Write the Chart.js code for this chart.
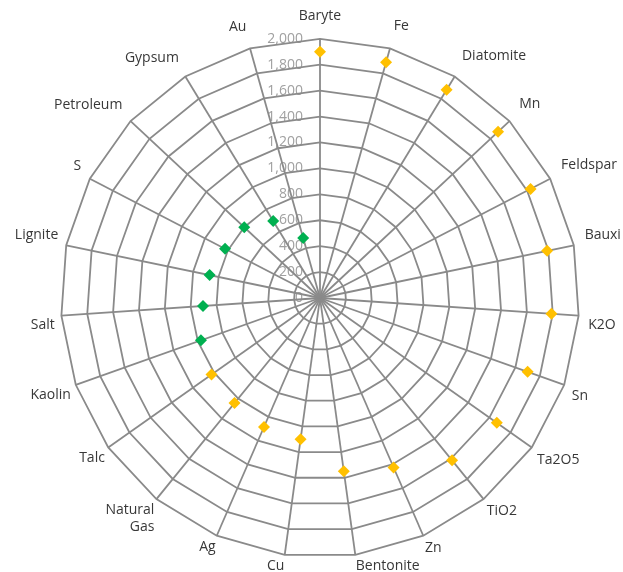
<!DOCTYPE html>
<html>
<head>
<meta charset="utf-8">
<script src="https://cdn.jsdelivr.net/npm/chart.js@4"></script>
<style>
  html, body { margin: 0; padding: 0; background: #fff; width: 623px; height: 572px; overflow: hidden; position: relative; }
  /* the plot is a little larger than the window, as in the original crop */
  #wrap { position: absolute; left: -20px; top: 2px; width: 680px; height: 580px; }
</style>
</head>
<body>
<div id="wrap"><canvas id="radarChart"></canvas></div>
<script>
const categories = ['Baryte', 'Fe', 'Diatomite', 'Mn', 'Feldspar', 'Bauxi', 'K2O', 'Sn', 'Ta2O5', 'TiO2',
    'Zn', 'Bentonite', 'Cu', 'Ag', ['Natural', 'Gas'], 'Talc', 'Kaolin', 'Salt', 'Lignite', 'S',
    'Petroleum', 'Gypsum', 'Au'];

const orangeValues = [1900, 1890, 1880, 1880, 1830, 1790, 1790, 1700, 1670, 1615,
    1425, 1350, 1100, 1085, 1045, 1025, null, null, null, null,
    null, null, null];

const greenValues = [null, null, null, null, null, null, null, null, null, null,
    null, null, null, null, null, null, 975, 905, 870, 825,
    800, 695, 480];

const scaleMin = 0;
const scaleMax = 2000;
const scaleStep = 200;

// tick labels sit left of the top axis, right aligned like the original
const tickLabelPlugin = {
    id: 'tickLabels',
    beforeDraw(chart) {
        let scale = chart.scales.r;
        let ctx = chart.ctx;
        ctx.save();
        ctx.font = '14px "Open Sans"';
        ctx.fillStyle = '#a0a0a0';
        ctx.textAlign = 'right';
        ctx.textBaseline = 'middle';
        scale.ticks.forEach(tick => {
            let d = scale.getDistanceFromCenterForValue(tick.value);
            ctx.fillText(tick.value.toLocaleString('en-US'), scale.xCenter - 17, scale.yCenter - d);
        });
        ctx.restore();
    }
};

// labels sit further out at the top than at the bottom
function labelPadding(context) {
    let a = context.index / categories.length * 2 * Math.PI;
    return 8.5 + 5.5 * Math.cos(a) + 1.5 * Math.sin(a);
}

let ctx = document.getElementById('radarChart').getContext('2d');
new Chart(ctx, {
    type: 'radar',
    data: {
        labels: categories,
        datasets: [{
            label: 'Series 1',
            data: orangeValues,
            showLine: false,
            fill: false,
            borderWidth: 0,
            borderColor: 'rgba(0,0,0,0)',
            backgroundColor: 'rgba(0,0,0,0)',
            pointStyle: 'rectRot',
            pointRadius: 6,
            pointHoverRadius: 6,
            pointBackgroundColor: '#FFC000',
            pointBorderColor: '#FFC000',
            pointBorderWidth: 0
        }, {
            label: 'Series 2',
            data: greenValues,
            showLine: false,
            fill: false,
            borderWidth: 0,
            borderColor: 'rgba(0,0,0,0)',
            backgroundColor: 'rgba(0,0,0,0)',
            pointStyle: 'rectRot',
            pointRadius: 6,
            pointHoverRadius: 6,
            pointBackgroundColor: '#00B050',
            pointBorderColor: '#00B050',
            pointBorderWidth: 0
        }]
    },
    options: {
        responsive: true,
        maintainAspectRatio: false,
        animation: false,
        layout: { padding: 0 },
        plugins: {
            legend: { display: false },
            tooltip: { enabled: false }
        },
        scales: {
            r: {
                min: scaleMin,
                max: scaleMax,
                ticks: { stepSize: scaleStep, display: false },
                grid: { color: '#8a8a8a', lineWidth: 1.8 },
                angleLines: { color: '#8a8a8a', lineWidth: 1.8 },
                pointLabels: {
                    color: '#383838',
                    font: { family: '"Open Sans"', size: 14 },
                    padding: labelPadding
                }
            }
        }
    },
    plugins: [tickLabelPlugin]
});
</script>
</body>
</html>
